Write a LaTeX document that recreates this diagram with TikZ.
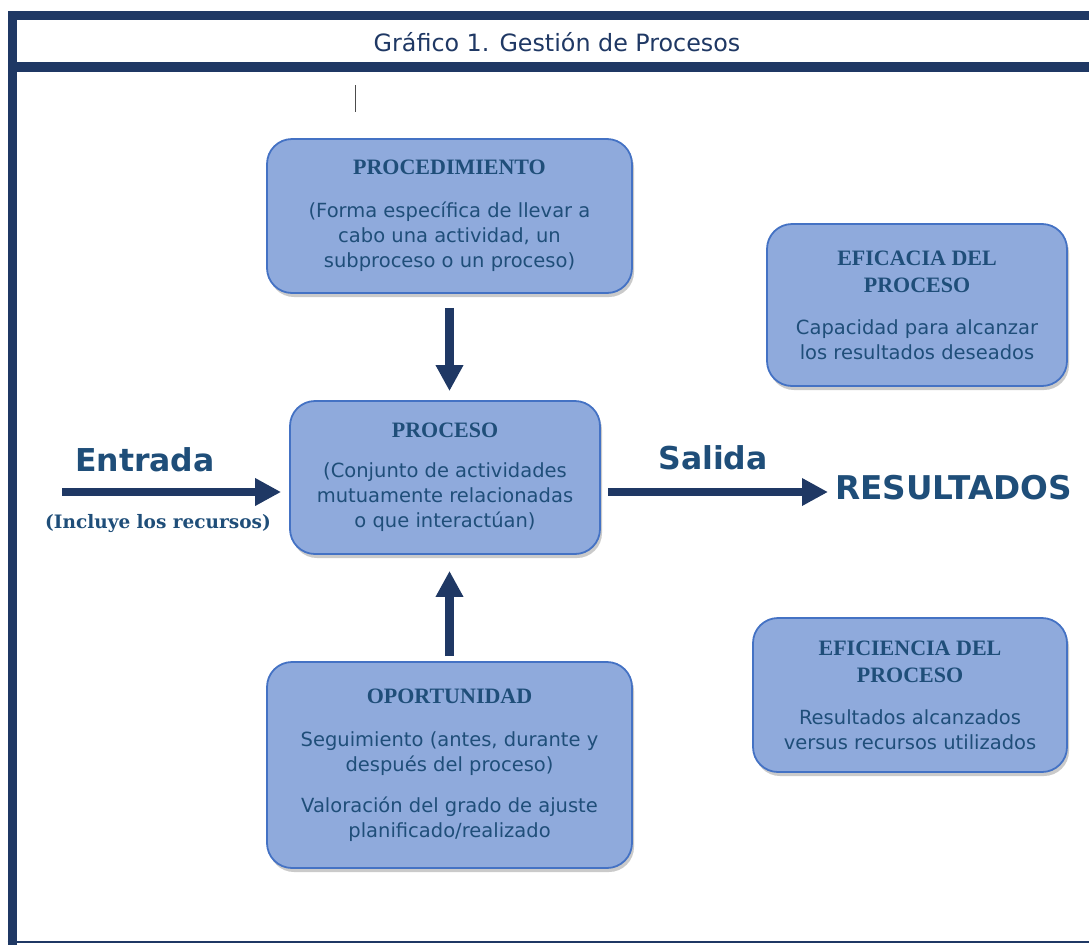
\documentclass[tikz,border=0pt]{standalone}
\usepackage{fontspec}
\setmainfont{DejaVu Sans}
\newfontfamily\serifa{Liberation Serif}
\newfontfamily\serifb{DejaVu Serif}
\usetikzlibrary{math,arrows.meta,shadows,positioning}

\definecolor{marco}{HTML}{1F3864}
\definecolor{relleno}{HTML}{8FAADC}
\definecolor{borde}{HTML}{4472C4}
\definecolor{texto}{HTML}{1F4E79}

\newcommand{\cab}{\serifa\bfseries\fontsize{22}{27}\selectfont}

\tikzset{
    caja/.style = {rectangle, rounded corners = 25pt, draw = borde,
        line width = 1.8pt, fill = relleno, text = texto, align = center,
        inner sep = 0pt,
        font = \fontsize{19.5}{25}\selectfont,
        drop shadow = {shadow xshift = 2pt, shadow yshift = -4pt,
            fill = black!60, opacity = 0.35}},
    flecha/.style = {marco, line width = 8.5pt,
        -{Triangle[length = 26pt, width = 26pt]}},
    rotulo/.style = {text = texto, font = \bfseries\fontsize{31.5}{36}\selectfont}
}

\begin{document}
\begin{tikzpicture}[x = 1pt, y = -1pt]
    \tikzmath{
        \xval = 1089;
        \yval = 945;
        \izq = 7.5;
        \flechay = 492;
    }

\useasboundingbox (0, 0) rectangle (\xval, \yval);

% Marco
\fill[marco] (\izq, 10.5) rectangle (\xval, 20);
\fill[marco] (\izq, 62) rectangle (\xval, 72);
\fill[marco] (\izq, 10.5) rectangle (16.7, \yval);
\draw[marco, line width = 2pt] (\izq, 942) -- (\xval, 942);

% Titulo
\node[text = marco, font = \fontsize{23.8}{28}\selectfont] (titulo) at (557, 42)
    {Gráfico 1. Gestión de Procesos};
\draw[black!70, line width = 1pt] (355.5, 85) -- (355.5, 112);

% Cajas
\node[caja, minimum width = 365pt, minimum height = 154pt] (procedimiento) at (449.5, 216)
    {{\cab PROCEDIMIENTO}\\[18pt]
     (Forma específica de llevar a\\cabo una actividad, un\\subproceso o un proceso)};

\node[caja, minimum width = 310pt, minimum height = 153pt] (proceso) at (445, 477.5)
    {{\cab PROCESO}\\[15pt]
     (Conjunto de actividades\\mutuamente relacionadas\\o que interactúan)};

\node[caja, minimum width = 365pt, minimum height = 206pt] (oportunidad) at (449.5, 765)
    {{\cab OPORTUNIDAD}\\[18pt]
     Seguimiento (antes, durante y\\después del proceso)\\[16pt]
     Valoración del grado de ajuste\\planificado/realizado};

\node[caja, minimum width = 300pt, minimum height = 162pt] (eficacia) at (917, 305)
    {{\cab EFICACIA DEL}\\[2pt]{\cab PROCESO}\\[17pt]
     Capacidad para alcanzar\\los resultados deseados};

\node[caja, minimum width = 314pt, minimum height = 154pt] (eficiencia) at (910, 695)
    {{\cab EFICIENCIA DEL}\\[2pt]{\cab PROCESO}\\[17pt]
     Resultados alcanzados\\versus recursos utilizados};

% Entrada y salida
\coordinate (inicio) at (62, \flechay);
\node[rotulo] (entrada) at (145, 460) {Entrada};
\node[text = texto, font = \serifb\bfseries\fontsize{18.5}{22}\selectfont] (recursos) at (158, 524)
    {(Incluye los recursos)};
\node[rotulo] (salida) at (713, 458) {Salida};
\node[rotulo, anchor = west, inner sep = 0pt, font = \bfseries\fontsize{32.7}{38}\selectfont]
    (resultados) at (835, 488) {RESULTADOS};

% Flechas
\draw[flecha, shorten < = 14pt, shorten > = 9pt]
    (procedimiento.south) -- (procedimiento.south |- proceso.north);
\draw[flecha, shorten < = 5pt, shorten > = 16pt]
    (oportunidad.north -| procedimiento.south) -- (procedimiento.south |- proceso.south);
\draw[flecha, shorten > = 8pt] (inicio) -- (proceso.west |- inicio);
\draw[flecha, shorten < = 7pt, shorten > = 7pt] (proceso.east |- inicio) -- (resultados.west |- inicio);

\end{tikzpicture}
\end{document}
